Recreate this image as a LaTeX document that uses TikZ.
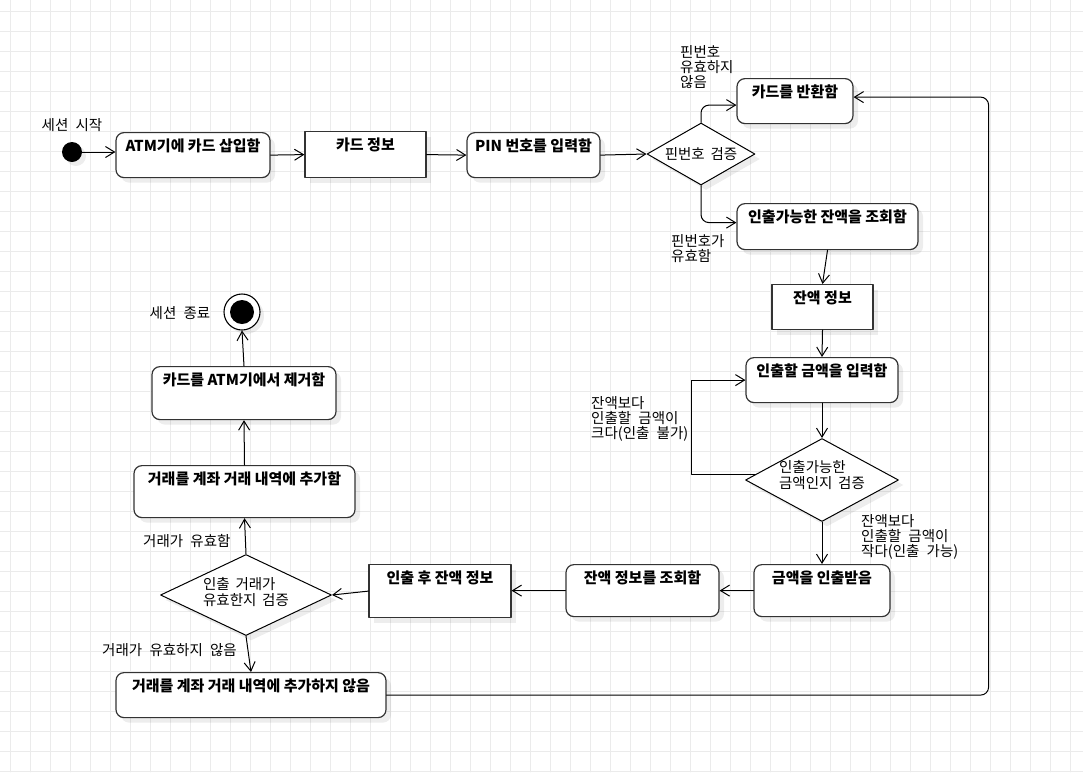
\documentclass[tikz,border=0pt]{standalone}
\usepackage{fontspec}
\usepackage{tikz}
\usetikzlibrary{arrows.meta,shapes.geometric,shadows,calc}
\newfontfamily\kr{Noto Sans CJK KR}
\newcommand\lblfont{\kr\fontsize{14.5}{15}\selectfont\spaceskip=0.5em\relax}
\newcommand\decfont{\kr\fontsize{14.5}{15.5}\selectfont\spaceskip=0.4em\relax}
\definecolor{gridc}{rgb}{0.92,0.92,0.92}
\definecolor{bordc}{rgb}{0.2,0.2,0.2}
\begin{document}
\begin{tikzpicture}[line cap=round,line join=round,x=1pt,y=-1pt,
  >={Straight Barb[length=9pt,width=11pt]},
  act/.style={draw=bordc,line width=1.2pt,rounded corners=8pt,fill=white,
    font=\kr\bfseries\fontsize{15}{17}\selectfont,inner xsep=0pt,inner ysep=0pt,
    text height=18.5pt,anchor=north,
    drop shadow={shadow xshift=5pt,shadow yshift=-5pt,fill=black,opacity=0.07}},
  obj/.style={act,rounded corners=0pt},
  dec/.style={diamond,draw=black,line width=1pt,fill=white,inner sep=0pt,
    drop shadow={shadow xshift=5pt,shadow yshift=-5pt,fill=black,opacity=0.07}},
  dectext/.style={font=\decfont,inner sep=0pt,align=left},
  lbl/.style={font=\lblfont,inner sep=0pt,align=left},
  flow/.style={->,line width=1pt,black}]
\useasboundingbox (0,0) rectangle (1083,772);
\fill[white] (0,0) rectangle (1083,772);
% grid
\foreach \gx in {10,30,...,1080} \draw[gridc,line width=0.9pt] (\gx,0) -- (\gx,772);
\foreach \gy in {11.5,31.5,...,772} \draw[gridc,line width=0.9pt] (0,\gy) -- (1083,\gy);

% start / end
\node[circle,fill=black,minimum size=20pt,inner sep=0pt,
  drop shadow={shadow xshift=4pt,shadow yshift=-4pt,fill=black,opacity=0.07}] (start) at (72,152) {};
\node[lbl,anchor=center] (startlbl) at (72,125) {세션 시작};
\node[circle,draw=black,line width=1.1pt,fill=white,minimum size=36pt,inner sep=0pt,
  drop shadow={shadow xshift=4pt,shadow yshift=-4pt,fill=black,opacity=0.07}] (end) at (242,312) {};
\node[circle,fill=black,minimum size=24pt,inner sep=0pt] (endin) at (end.center) {};
\node[lbl,anchor=center] (endlbl) at (180,313) {세션 종료};

% top row
\node[act,minimum width=154pt,text depth=26.5pt] (insert) at (193,132) {ATM기에 카드 삽입함};
\node[obj,minimum width=121pt,text depth=27.5pt] (cardinfo) at (365.5,131) {카드 정보};
\node[act,minimum width=133pt,text depth=26.5pt] (pin) at (533.5,132) {PIN 번호를 입력함};
\node[dec,minimum width=108pt,minimum height=62pt,
  label={[dectext]center:핀번호 검증}] (pincheck) at (701,154) {};
\node[act,minimum width=116pt,text depth=26.5pt] (retcard) at (795,78) {카드를 반환함};
\node[act,minimum width=181pt,text depth=27.5pt] (balance) at (827.5,203) {인출가능한 잔액을 조회함};

% right column
\node[obj,minimum width=101pt,text depth=26.5pt] (balinfo) at (822.5,284) {잔액 정보};
\node[act,minimum width=152pt,text depth=26.5pt] (amount) at (822,357) {인출할 금액을 입력함};
\node[dec,minimum width=153pt,minimum height=83pt,
  label={[dectext,yshift=5pt]center:인출가능한\\금액인지 검증}] (amtcheck) at (822,480) {};
\node[act,minimum width=136pt,text depth=33.5pt] (withdraw) at (822,564) {금액을 인출받음};

% bottom row
\node[act,minimum width=153pt,text depth=33.5pt] (query) at (642.5,564) {잔액 정보를 조회함};
\node[obj,minimum width=142pt,text depth=34.5pt] (after) at (440,564) {인출 후 잔액 정보};
\node[dec,minimum width=171pt,minimum height=81pt,
  label={[dectext,yshift=3pt]center:인출 거래가\\유효한지 검증}] (txcheck) at (246,595) {};
\node[act,minimum width=270pt,text depth=26.5pt] (noadd) at (251,672) {거래를 계좌 거래 내역에 추가하지 않음};
\node[act,minimum width=221pt,text depth=33.5pt] (addtx) at (244.5,465) {거래를 계좌 거래 내역에 추가함};
\node[act,minimum width=184pt,text depth=34.5pt] (remove) at (244,366) {카드를 ATM기에서 제거함};

% labels
\node[lbl,anchor=north west] (l1) at (680,45) {핀번호\\유효하지\\않음};
\node[lbl,anchor=north west] (l2) at (671,234) {핀번호가\\유효함};
\node[lbl,anchor=north west] (l3) at (591,396) {잔액보다\\인출할 금액이\\크다(인출 불가)};
\node[lbl,anchor=north west] (l4) at (861,514) {잔액보다\\인출할 금액이\\작다(인출 가능)};
\node[lbl,anchor=west] (l5) at (143,541) {거래가 유효함};
\node[lbl,anchor=east] (l6) at (237,650) {거래가 유효하지 않음};

% flows
\draw[flow] (start) -- (start.east -| insert.west);
\draw[flow] (insert.east) -- (cardinfo.west);
\draw[flow] (cardinfo.east) -- (pin.west);
\draw[flow] (pin.east) -- (pincheck.west);
\draw[flow,rounded corners=8pt] (pincheck.north) |- ($(retcard.west)+(0,4)$);
\draw[flow,rounded corners=8pt] (pincheck.south) |- ($(balance.west)+(0,-4)$);
\draw[flow] (balance.south) -- (balinfo.north);
\draw[flow] (balinfo.south) -- (amount.north);
\draw[flow] (amount.south) -- (amtcheck.north);
\draw[flow] (amtcheck.175) -| ($(amount.west)+(-54,0)$) -- (amount.west);
\draw[flow] (amtcheck.south) -- (withdraw.north);
\draw[flow] (withdraw.west) -- (query.east);
\draw[flow] (query.west) -- (query.west -| after.east);
\draw[flow] (after.west) -- (txcheck.east);
\draw[flow] (txcheck.south) -- (noadd.north);
\draw[flow] (txcheck.north) -- (addtx.south);
\draw[flow] (addtx.north) -- (remove.south);
\draw[flow] (remove.north) -- (end.south);
\draw[flow,rounded corners=8pt] (noadd.east) -| ($(retcard.east)+(135,-4)$) -- ($(retcard.east)+(0,-4)$);
\end{tikzpicture}
\end{document}
